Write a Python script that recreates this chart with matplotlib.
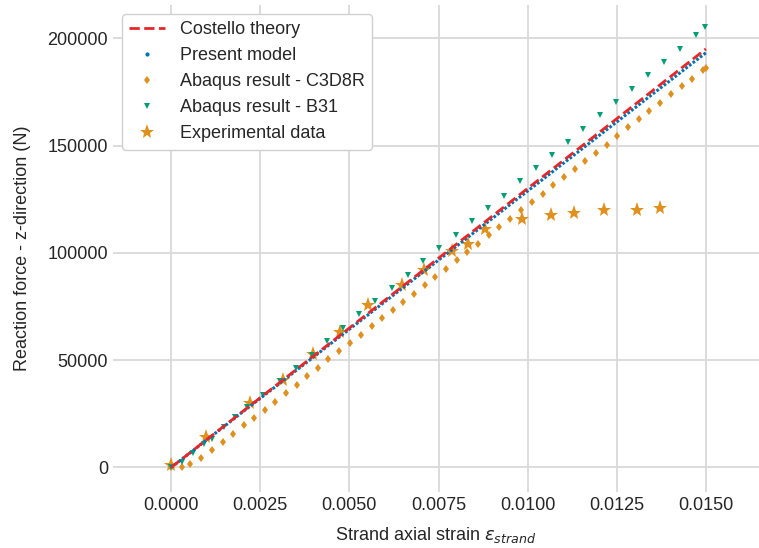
import numpy as np
import matplotlib
matplotlib.use("Agg")
import matplotlib.pyplot as plt
import seaborn as sns
from matplotlib.lines import Line2D
from matplotlib.ticker import FormatStrFormatter

# Costello theory (straight line)
costello_strain = [0.0, 0.015]
costello_force = [0, 195000]

# Present model
present_strain = [0.0, 0.0005, 0.001, 0.0015, 0.002, 0.0025, 0.003, 0.0035, 0.004, 0.0045,
                  0.005, 0.0055, 0.006, 0.0065, 0.007, 0.0075, 0.008, 0.0085, 0.009, 0.0095,
                  0.010, 0.0105, 0.011, 0.0115, 0.012, 0.0125, 0.013, 0.0135, 0.014, 0.0145, 0.015]
present_force = [0, 6400, 12900, 19300, 25800, 32200, 38600, 45100, 51500, 58000,
                 64400, 70800, 77300, 83700, 90200, 96600, 103000, 109500, 115900, 122400,
                 128800, 135200, 141700, 148100, 154600, 161000, 167400, 173900, 180300, 186800, 193200]

# Abaqus C3D8R
c3d8r_strain = [0.0, 0.0003, 0.00053, 0.00083, 0.00114, 0.00144, 0.00173, 0.00203, 0.00233, 0.00262,
                0.00292, 0.00322, 0.00352, 0.00382, 0.00412, 0.00441, 0.00471, 0.00502, 0.00532,
                0.00563, 0.00592, 0.00622, 0.00651, 0.00681, 0.00712, 0.00741, 0.00771, 0.00801,
                0.00831, 0.00862, 0.00892, 0.0092, 0.0095, 0.00981, 0.01011, 0.01042, 0.01072,
                0.01102, 0.01132, 0.01162, 0.01192, 0.01222, 0.01251, 0.01281, 0.01311, 0.01341,
                0.01371, 0.01401, 0.01432, 0.01462, 0.01491, 0.01499]
c3d8r_force = [0, 200, 1700, 4500, 7900, 11800, 15400, 19600, 23200, 26900,
               30400, 34600, 38500, 42400, 46300, 50300, 54100, 57900, 61900,
               65700, 69600, 73200, 77100, 81000, 84900, 88900, 92600, 96500,
               100400, 104300, 108200, 111900, 115900, 119800, 123700, 127600, 131500,
               135300, 138900, 142800, 146700, 150400, 154500, 158400, 162200, 166000,
               169800, 173800, 177600, 181200, 185100, 186200]

# Abaqus B31
b31_strain = [0.0, 0.0003, 0.0006, 0.00091, 0.00114, 0.00147, 0.00179, 0.00212, 0.00257, 0.00306,
              0.0035, 0.00395, 0.00438, 0.00483, 0.00527, 0.00572, 0.00619, 0.00663, 0.00707,
              0.00752, 0.00798, 0.00843, 0.00888, 0.00933, 0.00978, 0.01023, 0.01067, 0.01112,
              0.01156, 0.01203, 0.01248, 0.01292, 0.01337, 0.01382, 0.01427, 0.01472, 0.01498]
b31_force = [0, 2500, 6900, 10700, 13400, 18800, 23500, 28100, 33900, 40100,
             46300, 52500, 58700, 64900, 71300, 77400, 83600, 89800, 96000,
             102200, 108500, 114700, 120900, 126500, 133300, 139600, 145500, 151700,
             157900, 164100, 170300, 176500, 182700, 188800, 195000, 201300, 205000]

# Experimental data
exp_strain = [0.0, 0.00097, 0.00221, 0.00315, 0.00397, 0.00474, 0.00551, 0.00647, 0.0071,
              0.00787, 0.00834, 0.0088, 0.00983, 0.01065, 0.01131, 0.01214, 0.01308, 0.01371]
exp_force = [1000, 14100, 30200, 40600, 53000, 63100, 75500, 84900, 91800,
             100700, 104300, 111300, 115600, 117500, 118600, 119800, 119800, 120900]

sns.set_style("whitegrid")
plt.rcParams['font.family'] = ['Liberation Sans', 'DejaVu Sans']

blue = '#0173B2'
orange = '#E0901E'
green = '#029E73'
red = '#E8262A'

fig = plt.figure(figsize=(7.59, 5.48), dpi=100)
ax = fig.add_axes([0.149, 0.102, 0.851, 0.889])

ax.plot(exp_strain, exp_force, ls='', marker='*', ms=11, color=orange, mew=0, zorder=2)
ax.plot(c3d8r_strain, c3d8r_force, ls='', marker='d', ms=4.3, color=orange, mew=0, zorder=3)
ax.plot(b31_strain, b31_force, ls='', marker='v', ms=4.6, color=green, mew=0, zorder=3)
ax.plot(present_strain, present_force, ls=(0, (0.9, 0.6)), lw=2.2, color=blue, zorder=4)
ax.plot(costello_strain, costello_force, ls='--', lw=2, color=red, zorder=5)

handles = [
    Line2D([], [], ls='--', lw=2, color=red),
    Line2D([], [], ls='', marker='.', ms=4, color=blue),
    Line2D([], [], ls='', marker='d', ms=4.3, color=orange, mew=0),
    Line2D([], [], ls='', marker='v', ms=4.6, color=green, mew=0),
    Line2D([], [], ls='', marker='*', ms=11, color=orange, mew=0),
]
labels = ["Costello theory", "Present model", "Abaqus result - C3D8R",
          "Abaqus result - B31", "Experimental data"]
ax.legend(handles, labels, loc='upper left', fontsize=13, labelspacing=0.5,
          frameon=True, edgecolor='#d0d0d0', framealpha=1)

ax.set_xlim(-0.00163, 0.01649)
ax.set_ylim(-11500, 215500)
ax.set_xticks([0.0, 0.0025, 0.005, 0.0075, 0.01, 0.0125, 0.015])
ax.set_yticks([0, 50000, 100000, 150000, 200000])
ax.xaxis.set_major_formatter(FormatStrFormatter('%.4f'))
ax.yaxis.set_major_formatter(FormatStrFormatter('%d'))
ax.tick_params(labelsize=13, length=0, colors='#262626')
ax.grid(True, color='#d9d9d9', lw=1.3)
for s in ax.spines.values():
    s.set_visible(False)

ax.set_xlabel(r"Strand axial strain $\varepsilon_{strand}$", fontsize=13, color='#262626', labelpad=8)
ax.set_ylabel("Reaction force - z-direction (N)", fontsize=13, color='#262626', labelpad=12)

fig.savefig("out.png", dpi=100)
